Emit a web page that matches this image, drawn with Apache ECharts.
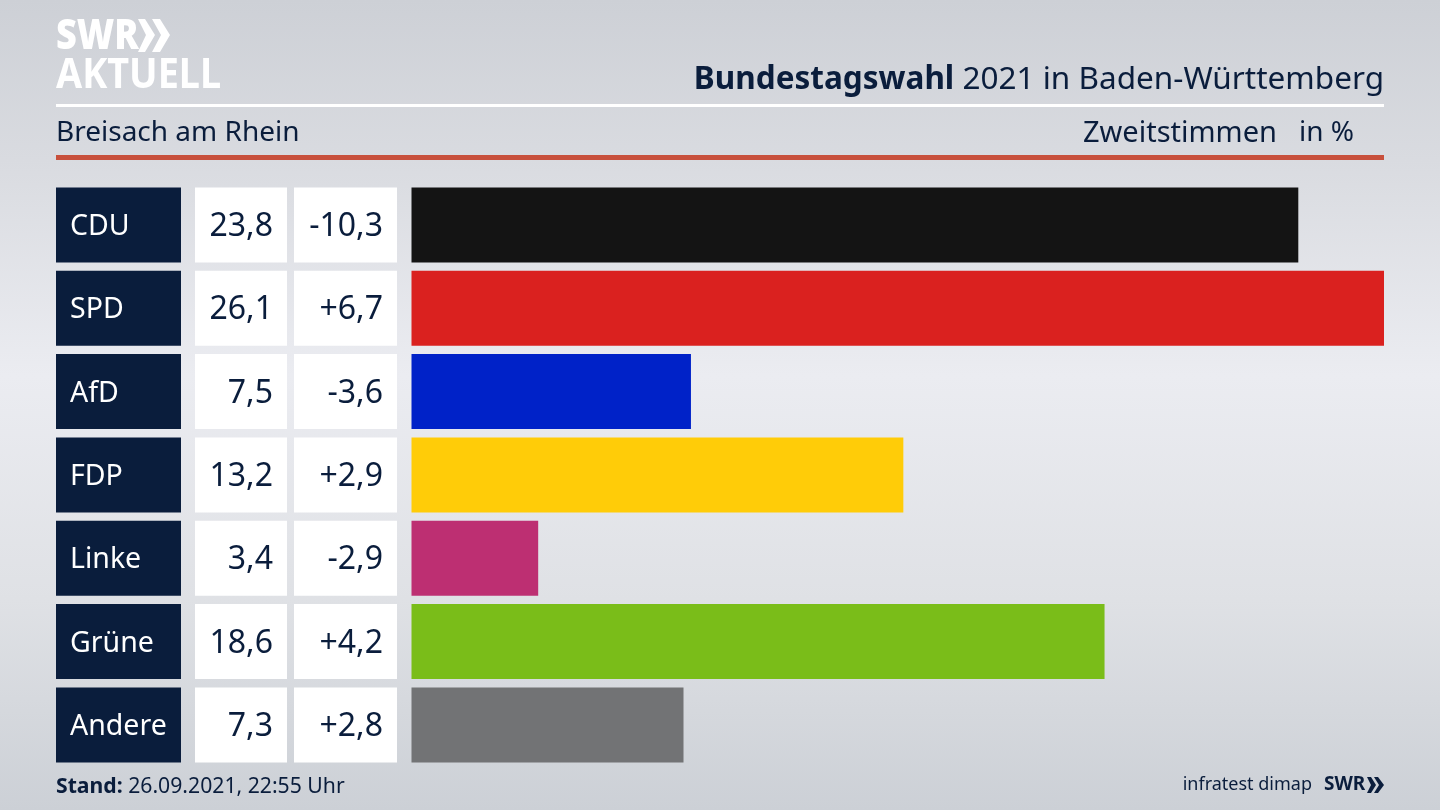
<!DOCTYPE html>
<html lang="de">
<head>
<meta charset="UTF-8">
<title>Bundestagswahl 2021</title>
<style>
  html, body { margin: 0; padding: 0; width: 1440px; height: 810px; overflow: hidden; }
  body { background: linear-gradient(180deg, #cdd0d6 0px, #d9dbe0 160px, #ebecf1 375px, #dfe1e5 600px, #ccd0d6 810px); }
  #chart { width: 1440px; height: 810px; }
</style>
<script src="https://cdn.jsdelivr.net/npm/echarts@6/dist/echarts.min.js"></script>
</head>
<body>
<div id="chart"></div>
<script>
var parties = ['CDU', 'SPD', 'AfD', 'FDP', 'Linke', 'Grüne', 'Andere'];
var shares = [23.8, 26.1, 7.5, 13.2, 3.4, 18.6, 7.3];
var changes = [-10.3, 6.7, -3.6, 2.9, -2.9, 4.2, 2.8];
var partyColors = ['#141414', '#da211f', '#0022c8', '#ffcc08', '#bd2f72', '#7abd19', '#727375'];

var NAVY = '#0a1d3c';
var FONT = '"Noto Sans", sans-serif';

function de(v) { return v.toFixed(1).replace('.', ','); }
function signed(v) { return (v > 0 ? '+' : '') + de(v); }

// die drei Spalten links sind volle Balken in eigenen Grids
var columns = [
  { left: 56, width: 125, color: NAVY, text: '#ffffff', align: 'left', size: 28.5, label: function (i) { return parties[i]; } },
  { left: 195, width: 92, color: '#ffffff', text: NAVY, align: 'right', size: 32, label: function (i) { return de(shares[i]); } },
  { left: 294, width: 103, color: '#ffffff', text: NAVY, align: 'right', size: 32, label: function (i) { return signed(changes[i]); } }
];

var grids = [], xAxes = [], yAxes = [], series = [];

function addAxes(left, width, max) {
  var idx = grids.length;
  grids.push({ left: left, width: width, top: 183.3, height: 583.3 });
  xAxes.push({ type: 'value', gridIndex: idx, min: 0, max: max, show: false });
  yAxes.push({ type: 'category', gridIndex: idx, data: parties, inverse: true, show: false });
  return idx;
}

columns.forEach(function (c) {
  var idx = addAxes(c.left, c.width, 1);
  series.push({
    type: 'bar', xAxisIndex: idx, yAxisIndex: idx, barWidth: 75, silent: true,
    data: parties.map(function () { return 1; }),
    itemStyle: { color: c.color },
    label: {
      show: true,
      position: c.align === 'left' ? 'insideLeft' : 'insideRight',
      distance: 14,
      offset: [0, 2],
      color: c.text, fontFamily: FONT, fontSize: c.size,
      formatter: function (p) { return c.label(p.dataIndex); }
    }
  });
});

var barIdx = addAxes(411.5, 972.5, 26.1);
series.push({
  type: 'bar', xAxisIndex: barIdx, yAxisIndex: barIdx, barWidth: 75, silent: true,
  data: shares.map(function (v, i) { return { value: v, itemStyle: { color: partyColors[i] } }; })
});

var chart = echarts.init(document.getElementById('chart'));
chart.setOption({
  animation: false,
  backgroundColor: 'transparent',
  textStyle: { fontFamily: FONT },
  grid: grids, xAxis: xAxes, yAxis: yAxes, series: series,
  title: [
    { text: '{b|Bundestagswahl} 2021 in Baden-Württemberg', right: 56, top: 64,
      padding: 0,
      textStyle: { fontFamily: FONT, fontSize: 31.5, fontWeight: 'normal', color: NAVY,
        rich: { b: { fontFamily: FONT, fontSize: 31.5, fontWeight: 'bold', color: NAVY } } } },
    { text: 'Breisach am Rhein', left: 56, top: 119, padding: 0,
      textStyle: { fontFamily: FONT, fontSize: 28, fontWeight: 'normal', color: NAVY } },
    { text: 'Zweitstimmen', right: 163, top: 119, padding: 0,
      textStyle: { fontFamily: FONT, fontSize: 29, fontWeight: 'normal', color: NAVY } },
    { text: 'in %', right: 86, top: 119, padding: 0,
      textStyle: { fontFamily: FONT, fontSize: 28, fontWeight: 'normal', color: NAVY } },
    { text: '{b|Stand:} 26.09.2021, 22:55 Uhr', left: 56, top: 776, padding: 0,
      textStyle: { fontFamily: FONT, fontSize: 21.2, fontWeight: 'normal', color: NAVY,
        rich: { b: { fontFamily: FONT, fontSize: 21.2, fontWeight: 'bold', color: NAVY } } } },
    { text: 'infratest dimap', right: 128, top: 776, padding: 0,
      textStyle: { fontFamily: FONT, fontSize: 18, fontWeight: 'normal', color: NAVY } },
    { text: 'SWR', left: 1324, top: 775, padding: 0,
      textStyle: { fontFamily: FONT, fontSize: 19, fontWeight: 'bold', color: NAVY } }
  ],
  graphic: [
    { type: 'rect', shape: { x: 56, y: 104, width: 1328, height: 3 }, style: { fill: '#ffffff' } },
    { type: 'rect', shape: { x: 56, y: 155, width: 1328, height: 5 }, style: { fill: '#c8503c' } },
    { type: 'text', x: 56, y: 16, scaleX: 0.86, style: { text: 'SWR', font: '900 42px ' + FONT, fill: '#ffffff' } },
    { type: 'text', x: 56, y: 55, scaleX: 0.9, style: { text: 'AKTUELL', font: 'bold 42px ' + FONT, fill: '#ffffff' } },
    { type: 'polygon', shape: { points: [[138, 19], [145, 19], [155, 35], [145, 52], [138, 52], [146, 35]] }, style: { fill: '#ffffff' } },
    { type: 'polygon', shape: { points: [[152, 19], [160, 19], [170, 35], [160, 52], [152, 52], [161, 35]] }, style: { fill: '#ffffff' } },
    { type: 'polygon', shape: { points: [[1367, 777], [1371, 777], [1376, 785], [1371, 793], [1367, 793], [1371, 785]] }, style: { fill: NAVY } },
    { type: 'polygon', shape: { points: [[1374, 777], [1378, 777], [1384, 785], [1378, 793], [1374, 793], [1379, 785]] }, style: { fill: NAVY } }
  ]
});
</script>
</body>
</html>
